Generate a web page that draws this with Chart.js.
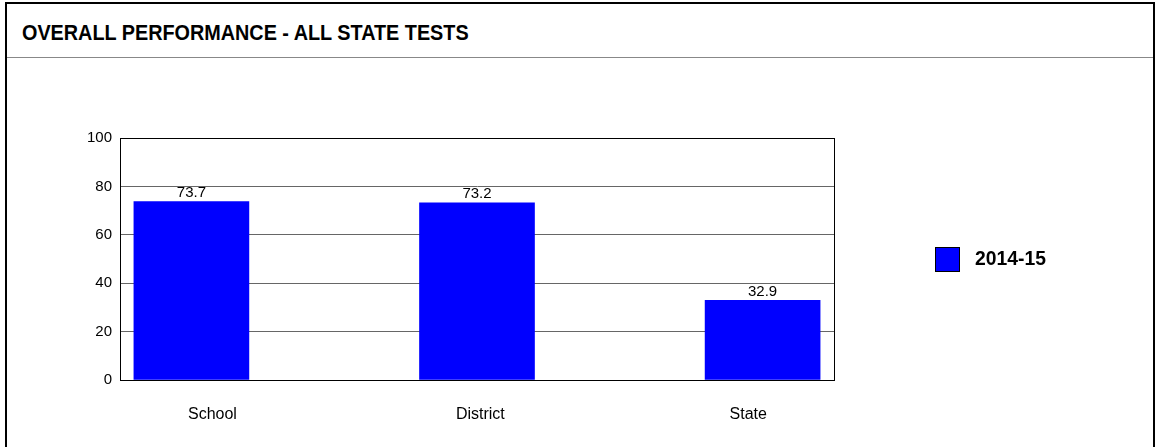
<!DOCTYPE html>
<html>
<head>
<meta charset="utf-8">
<script src="https://cdn.jsdelivr.net/npm/chart.js@4/dist/chart.umd.min.js"></script>
<style>
  body { margin:0; width:1160px; height:447px; overflow:hidden; background:#fff; font-family:"Liberation Sans", Arial, sans-serif; }
  #frame { position:absolute; left:5px; top:2px; width:1150px; height:460px; border:2px solid #000; box-sizing:border-box; }
  #title { position:absolute; left:22px; top:20px; font-weight:bold; font-size:22px; color:#000; transform:scaleX(0.9); transform-origin:left top; white-space:nowrap; }
  #rule { position:absolute; left:7px; top:57px; width:1146px; height:1px; background:#888; }
  #wrap { position:absolute; left:0; top:60px; width:1160px; height:387px; }
</style>
</head>
<body>
<div id="frame"></div>
<div id="title">OVERALL PERFORMANCE - ALL STATE TESTS</div>
<div id="rule"></div>
<div id="wrap"><canvas id="bar-graph"></canvas></div>
<script>
var categories = ["School", "District", "State"];
var series_label = "2014-15";
var series_values = [73.7, 73.2, 32.9];
var bar_color = "#0000FF";

var bar_points = series_values.map(function(v, i){ return { x: i, y: v }; });

// labels above bars, chart frame and legend drawn by hand
var extras = {
  id: "extras",
  afterDatasetsDraw: function(chart){
    var ctx = chart.ctx, a = chart.chartArea;
    ctx.save();
    ctx.strokeStyle = "#000"; ctx.lineWidth = 1;
    ctx.strokeRect(Math.round(a.left)+0.5, Math.round(a.top)+0.5, Math.round(a.right-a.left), Math.round(a.bottom-a.top));
    ctx.fillStyle = "#000";
    ctx.font = "15px 'Liberation Sans', Arial, sans-serif";
    ctx.textAlign = "center"; ctx.textBaseline = "bottom";
    chart.getDatasetMeta(0).data.forEach(function(bar, i){
      ctx.fillText(series_values[i].toFixed(1), bar.x, bar.y - 1);
    });
    // legend
    ctx.fillStyle = bar_color;
    ctx.fillRect(935, 187, 24, 24);
    ctx.strokeRect(935.5, 187.5, 24, 24);
    ctx.fillStyle = "#000";
    ctx.font = "bold 21px 'Liberation Sans', Arial, sans-serif";
    ctx.textAlign = "left"; ctx.textBaseline = "middle";
    ctx.translate(975, 199); ctx.scale(0.92, 1);
    ctx.fillText(series_label, 0, 0);
    ctx.restore();
  }
};

var bar_ctx = document.getElementById("bar-graph").getContext("2d");
var my_bar = new Chart(bar_ctx, {
  type: "bar",
  data: {
    datasets: [{ label: series_label, data: bar_points, backgroundColor: bar_color, barThickness: 115 }]
  },
  options: {
    responsive: true,
    maintainAspectRatio: false,
    animation: false,
    layout: { padding: { top: 78, right: 326, left: 0, bottom: 0 } },
    plugins: { legend: { display: false }, tooltip: { enabled: false } },
    scales: {
      x: {
        type: "linear", min: -0.25, max: 2.25, offset: false,
        grid: { display: false },
        border: { color: "#000" },
        ticks: { display: false, stepSize: 1 },
        afterFit: function(s){ s.height = 0; }
      },
      x2: {
        type: "linear", position: "bottom", min: -0.345, max: 2.32, offset: false,
        grid: { display: false },
        border: { display: false },
        ticks: {
          stepSize: 1, color: "#000", padding: 17,
          font: { size: 16, family: "'Liberation Sans', Arial, sans-serif" },
          callback: function(v){ return categories[v] !== undefined ? categories[v] : ""; }
        },
        afterBuildTicks: function(s){ s.ticks = [{ value: 0 }, { value: 1 }, { value: 2 }]; },
        afterFit: function(s){ s.height = 67; }
      },
      y: {
        min: 0, max: 100,
        ticks: { stepSize: 20, color: "#000", padding: 8, font: { size: 15, family: "'Liberation Sans', Arial, sans-serif" } },
        grid: { color: "#666", drawTicks: false },
        border: { color: "#000" },
        afterFit: function(s){ s.width = 120; }
      }
    }
  },
  plugins: [extras]
});
</script>
</body>
</html>
